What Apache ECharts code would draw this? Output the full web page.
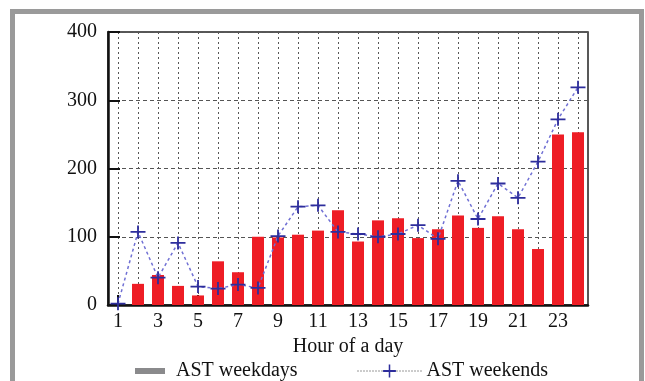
<!DOCTYPE html>
<html>
<head>
<meta charset="utf-8">
<script src="https://cdn.jsdelivr.net/npm/echarts@6/dist/echarts.min.js"></script>
<style>
  html, body { margin: 0; padding: 0; background: #fff; }
  #chart { width: 645px; height: 381px; }
</style>
</head>
<body>
<div id="chart"></div>
<script>
// Hours of the day
var hours = ['1','2','3','4','5','6','7','8','9','10','11','12',
             '13','14','15','16','17','18','19','20','21','22','23','24'];
// AST counts on weekdays (bars)
var weekdays = [0, 31, 44, 28, 14, 64, 48, 100, 99, 103, 109, 139,
                93, 124, 127, 98, 111, 131, 113, 130, 111, 82, 250, 253];
// AST counts on weekends (line)
var weekends = [2, 107, 40, 91, 27, 24, 30, 25, 101, 144, 146, 107,
                104, 100, 104, 117, 97, 182, 126, 178, 157, 210, 272, 319];
var yTicks = [0, 100, 200, 300, 400];

var serif = 'Liberation Serif';
// thin "+" marker
var plusPath = 'path://M6.6,0H8.4V5.6H15V7.4H8.4V13H6.6V7.4H0V5.6H6.6Z';

var chart = echarts.init(document.getElementById('chart'), null, { renderer: 'canvas' });

chart.setOption({
  animation: false,
  backgroundColor: '#fff',
  grid: {
    left: 108, right: 57, top: 32, bottom: 76,
    show: true, borderColor: '#222', borderWidth: 1.5, backgroundColor: 'transparent'
  },
  graphic: [{
    type: 'rect',
    shape: { x: 12.5, y: 11.5, width: 629, height: 420 },
    style: { fill: 'none', stroke: '#9a9a9a', lineWidth: 5 },
    z: -10, silent: true
  }],
  legend: [{
    data: [{ name: 'AST weekdays', icon: 'rect', itemStyle: { color: '#8a8a8c' } }],
    left: 130, top: 356,
    itemWidth: 30, itemHeight: 6,
    textStyle: { fontFamily: serif, fontSize: 20, color: '#111', padding: [0, 0, 0, 6] },
    selectedMode: false
  }, {
    data: [{
      name: 'AST weekends',
      itemStyle: { color: '#2d2d9c', borderWidth: 0 },
      lineStyle: { color: '#333', width: 1, type: [1, 2] }
    }],
    left: 352, top: 356,
    itemWidth: 64, itemHeight: 16,
    itemStyle: { color: '#2d2d9c', borderWidth: 0 },
    lineStyle: { color: '#333', width: 1, type: [1, 2] },
    textStyle: { fontFamily: serif, fontSize: 20, color: '#111' },
    selectedMode: false
  }],
  xAxis: {
    type: 'category',
    data: hours,
    boundaryGap: true,
    name: 'Hour of a day',
    nameLocation: 'middle',
    nameGap: 30,
    nameTextStyle: { fontFamily: serif, fontSize: 20, color: '#111' },
    axisLine: { lineStyle: { color: '#111', width: 2.5 } },
    axisTick: { show: true, inside: true, length: 10, interval: 1, alignWithLabel: true,
                lineStyle: { color: '#111', width: 2 } },
    axisLabel: { interval: 1, margin: 7, fontFamily: serif, fontSize: 20, color: '#111' },
    splitLine: { show: true, interval: 0, alignWithLabel: true,
                 lineStyle: { color: '#555', width: 1, type: [2, 3] } }
  },
  yAxis: {
    type: 'value',
    min: 0, max: 400, interval: 100,
    axisLine: { show: true, lineStyle: { color: '#111', width: 2.5 } },
    axisTick: { show: true, inside: true, length: 12, lineStyle: { color: '#111', width: 2 } },
    axisLabel: {
      margin: 11, fontFamily: serif, fontSize: 20, color: '#111',
      formatter: function (v) { return yTicks.indexOf(v) >= 0 ? String(v) : ''; }
    },
    splitLine: { show: true, lineStyle: { color: '#555', width: 1, type: [4, 3] } }
  },
  series: [{
    name: 'AST weekdays',
    type: 'bar',
    data: weekdays,
    barWidth: 12,
    itemStyle: { color: '#ee1d25' },
    z: 2
  }, {
    name: 'AST weekends',
    type: 'line',
    data: weekends,
    symbol: plusPath,
    symbolSize: [15, 13],
    showAllSymbol: true,
    itemStyle: { color: '#2d2d9c', borderWidth: 0 },
    lineStyle: { color: '#7070d4', width: 1.5, type: [3, 3] },
    z: 3
  }]
});
</script>
</body>
</html>
